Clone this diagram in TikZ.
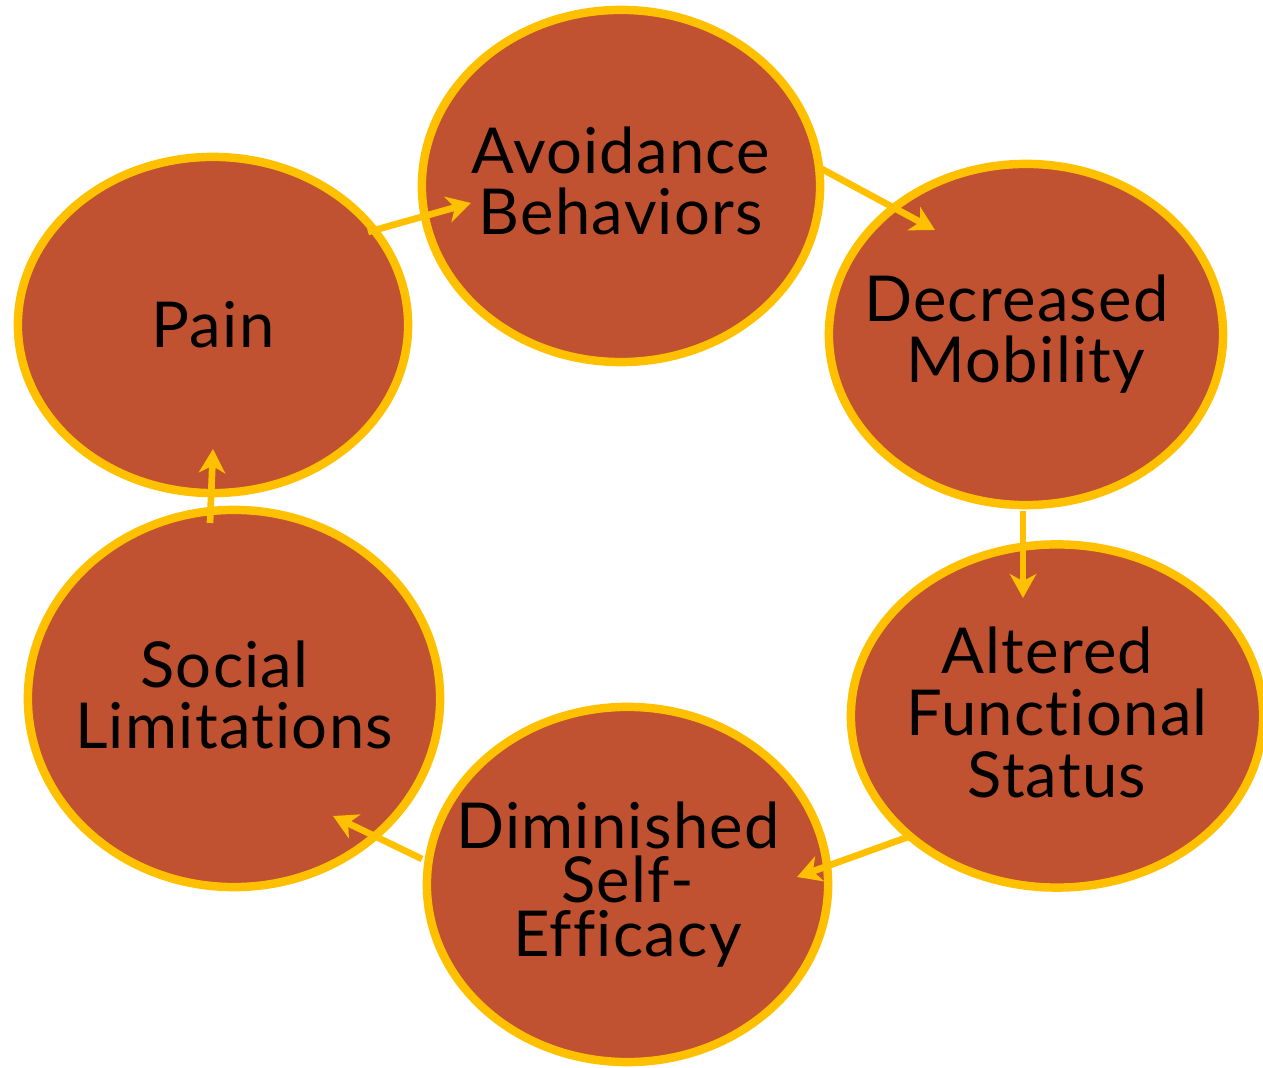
\documentclass[tikz,border=0pt]{standalone}
\usepackage{fontspec}
\setmainfont{Lato}[Ligatures=NoCommon, LetterSpace=2]
\usepackage{tikz}
\usetikzlibrary{arrows.meta, calc, shapes.geometric}

\definecolor{rust}{RGB}{192,81,49}
\definecolor{gold}{RGB}{255,192,0}
\newcommand{\padR}{\hspace*{0.3em}}

\begin{document}
\begin{tikzpicture}[x=0.01cm, y=-0.01cm,
        stage/.style={ellipse, draw=gold, fill=rust, line width=2.4pt, inner sep=0pt},
        every label/.style={font=\fontsize{18}{17.4}\selectfont, align=center, text=black, inner sep=0pt},
        flow/.style={draw=gold, line width=1.9pt, -{Stealth[length=6.8pt,width=7.5pt,inset=2pt]}}]
        \useasboundingbox (0,0) rectangle (1263,1068);

        \node[stage, minimum width=3.90cm, minimum height=3.36cm, label=center:{Pain}] (pain) at (213,325) {};
        \node[stage, minimum width=3.98cm, minimum height=3.52cm, label={[yshift=1.5pt]center:{Avoidance\\Behaviors}}] (avoid) at (621,186) {};
        \node[stage, minimum width=3.94cm, minimum height=3.41cm, label=center:{Decreased\padR\\Mobility}] (decr) at (1026,334.5) {};
        \node[stage, minimum width=4.12cm, minimum height=3.43cm, label={[font=\fontsize{18}{17.6}\selectfont, yshift=1pt]center:{Altered\padR\\Functional\\Status}}] (alter) at (1057,716) {};
        \node[stage, minimum width=4.01cm, minimum height=3.55cm, label={[font=\fontsize{18}{15.3}\selectfont]center:{Diminished\padR\\Self-\\Efficacy}}] (dimin) at (627.5,884.5) {};
        \node[stage, minimum width=4.12cm, minimum height=3.77cm, label={[yshift=1pt]center:{Social\padR\\Limitations}}] (social) at (234,698.5) {};

        \draw[flow] ($(pain)+(155,-93)$) -- ($(avoid)+(-150,17)$);
        \draw[flow] ($(avoid)+(199,-18)$) -- ($(decr)+(-91,-104.5)$);
        \draw[flow] ($(decr)+(-3,176.5)$) -- ($(alter)+(-34,-118)$);
        \draw[flow] ($(alter)+(-149,121)$) -- ($(dimin)+(169.5,-7.5)$);
        \draw[flow] ($(dimin)+(-205.5,-25.5)$) -- ($(social)+(99,117.5)$);
        \draw[flow] ($(social)+(-24,-175.5)$) -- ($(pain)+(0,124)$);
\end{tikzpicture}
\end{document}
